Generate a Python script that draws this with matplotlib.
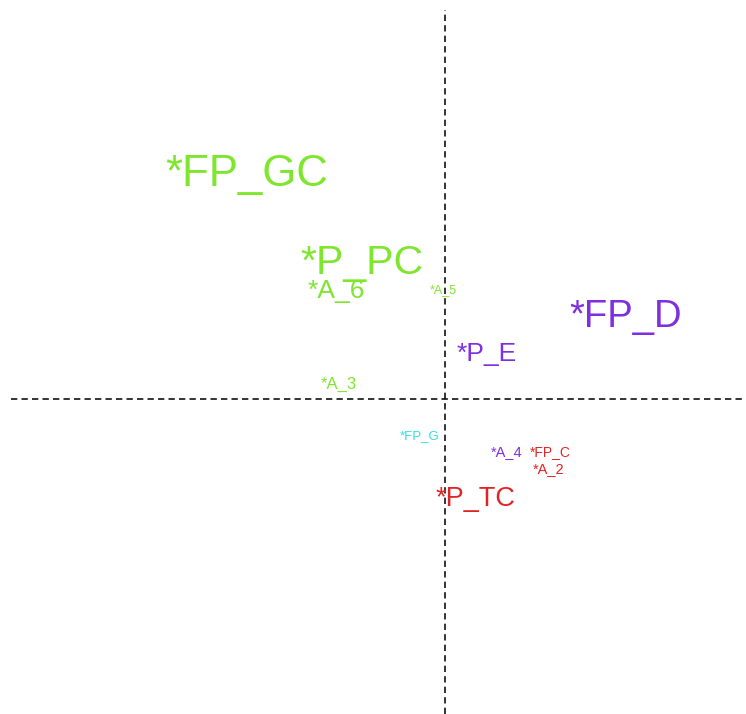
import matplotlib
matplotlib.use("Agg")
import matplotlib.pyplot as plt

# correspondence-style map: label, coordinates (x, y), relative weight, group
labels = ["*FP_GC", "*P_PC", "*A_6", "*A_5", "*FP_D", "*P_E", "*A_3",
          "*FP_G", "*A_4", "*FP_C", "*A_2", "*P_TC"]
xs = [-2.80, -1.45, -1.37, -0.15, 1.24, 0.12, -1.24,
      -0.45, 0.46, 0.85, 0.88, -0.09]
ys = [2.13, 1.25, 1.01, 1.06, 0.72, 0.38, 0.10,
      -0.40, -0.57, -0.57, -0.74, -1.07]
weights = [31.5, 29.5, 19, 9, 27.5, 19, 12, 9.5, 10.5, 10, 10.5, 19.5]
groups = ["g", "g", "g", "g", "p", "p", "g", "c", "p", "r", "r", "r"]

group_colors = {"g": "#7fe62e", "p": "#7f2ee0", "r": "#e02424", "c": "#33dede"}

fig = plt.figure(figsize=(7.46, 7.14), dpi=100)
ax = fig.add_axes([0, 0, 1, 1])
ax.set_xlim(-4.45, 3.01)
ax.set_ylim(-3.15, 3.99)
ax.axis('off')

ax.axvline(0, ymax=1 - 10 / 714, color='#111111', linewidth=1.2,
           linestyle=(0, (3.8, 2.5)))
ax.axhline(0, xmin=11 / 746, color='#111111', linewidth=1.2,
           linestyle=(0, (3.8, 2.5)))

for lab, x, y, w, g in zip(labels, xs, ys, weights, groups):
    ax.text(x, y, lab, fontsize=w, color=group_colors[g],
            family='Liberation Sans', ha='left', va='baseline')

fig.savefig("out.png", dpi=100)
